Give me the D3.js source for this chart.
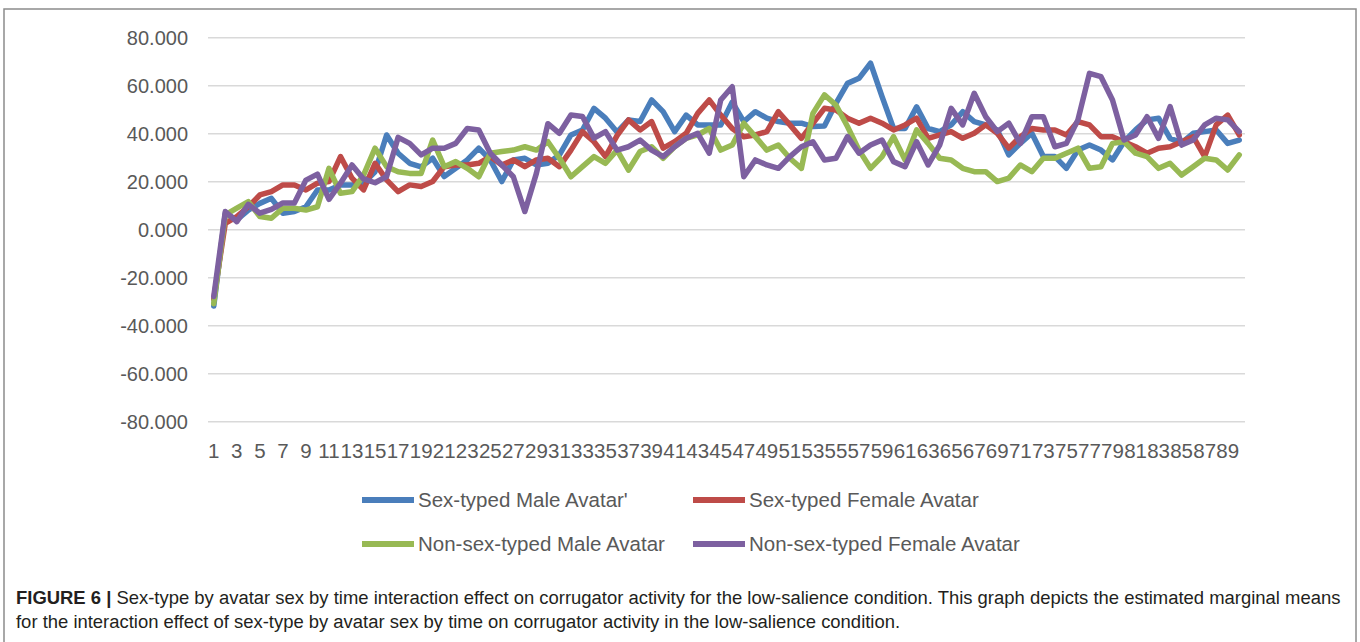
<!DOCTYPE html>
<html>
<head>
<meta charset="utf-8">
<script src="https://cdn.jsdelivr.net/npm/d3@7"></script>
<style>
  html, body { margin: 0; padding: 0; background: #fff; }
  svg { display: block; }
</style>
</head>
<body>
<svg id="chart" width="1360" height="642"></svg>
<script>
// ---- data ----
const categories = d3.range(1, 91);
const yTicks = [-80, -60, -40, -20, 0, 20, 40, 60, 80];
const seriesNames = ["Sex-typed Male Avatar'", "Sex-typed Female Avatar", "Non-sex-typed Male Avatar", "Non-sex-typed Female Avatar"];
const seriesColors = ["#4A7EBB", "#BE4B48", "#98B954", "#7D60A0"];

const sexTypedMale = [
  -32, 6.7, 3.9, 8, 10.8, 12.9, 6.7, 7.4, 9.4, 16.4,
  16.4, 18.5, 18.5, 19.2, 24, 39.3, 31.7, 27.5, 26, 29.6,
  22, 25.4, 28.9, 33.8, 28.9, 19.9, 28.9, 29.6, 26.8, 27.5,
  31, 39.3, 41.4, 50.4, 46.3, 40.5, 45.6, 44.9, 53.9, 49,
  40.7, 47.6, 43.5, 43.5, 43.5, 53, 44.9, 49, 46.3, 44.9,
  44.2, 44.2, 42.8, 43, 52.5, 60.8, 62.9, 69.2, 55.3, 42,
  42, 51, 42, 40.7, 43.5, 49, 44.9, 43.5, 41.4, 31,
  35.8, 40, 30.3, 30.3, 25.4, 33, 35.1, 33, 28.9, 36.5,
  41.4, 45.6, 46.3, 37.9, 36, 40, 40.7, 41.4, 35.8, 37.2
];
const sexTypedFemale = [
  -29, 2.5, 5.3, 9.4, 14.3, 15.7, 18.5, 18.5, 16.4, 19.2,
  19.9, 30.3, 21.3, 16.4, 27.5, 20.6, 15.7, 18.5, 17.8, 19.9,
  26.1, 26.8, 26.8, 27.5, 30.3, 26.8, 28.9, 26.1, 28.9, 29.6,
  26.1, 33, 40.7, 36.5, 30.3, 39, 45.6, 41.4, 44.9, 33.8,
  36.5, 40, 48.3, 53.9, 47.6, 42, 38.6, 39.3, 40.7, 49,
  43.5, 37.9, 44.2, 50.4, 49.7, 46.3, 44.2, 46.3, 44.2, 41.4,
  43.5, 46.3, 37.9, 39.3, 40.7, 37.9, 40, 43.5, 40, 33.8,
  38.6, 42, 41.4, 41.4, 39.3, 44.9, 43.5, 38.6, 38.6, 36.5,
  34.4, 31.7, 33.8, 34.4, 36.5, 38.6, 30.3, 43.5, 47.6, 39.3
];
const nonSexTypedMale = [
  -31, 6, 8.8, 11.5, 5.3, 4.6, 8.8, 8.8, 8, 9.4,
  25.4, 15, 15.7, 22.6, 33.8, 26.1, 24, 23.3, 23.3, 37.2,
  26.1, 28.2, 25.4, 21.9, 31.7, 32.4, 33, 34.4, 33, 36.5,
  29.6, 21.9, 26.1, 30.3, 27.5, 33, 24.7, 32.4, 34.4, 29.6,
  34.4, 37.9, 39.3, 42, 33, 35.1, 44.2, 38.6, 33, 35.1,
  29.6, 25.4, 48.3, 56, 51.8, 42.8, 33, 25.4, 30.3, 38.6,
  28.9, 41.4, 35.8, 29.6, 28.9, 25.4, 24, 24, 19.9, 21.3,
  26.8, 24, 29.6, 29.6, 31.7, 33.8, 25.4, 26.1, 35.8, 36.5,
  31.7, 30.3, 25.4, 27.5, 22.6, 26.1, 29.6, 28.9, 24.7, 31
];
const nonSexTypedFemale = [
  -28, 7.4, 3.2, 10.4, 6.7, 8.3, 11, 11, 20.5, 23,
  12.5, 19.2, 26.8, 21, 19.4, 22, 38.3, 35.8, 31, 33.8,
  33.8, 35.8, 42, 41.4, 31.7, 26.8, 21.9, 7.4, 23.3, 44,
  40, 47.6, 47, 38, 40.7, 33, 34.4, 37.2, 33, 30.3,
  34.4, 37.9, 40, 31.7, 53.9, 59.4, 21.9, 28.9, 26.8, 25.4,
  30.3, 34.4, 36.5, 28.9, 29.6, 38.6, 31.7, 35.1, 37.2, 28.2,
  26.1, 36.5, 26.8, 35.1, 50.4, 43.5, 56.7, 46.9, 40.7, 44.2,
  35.8, 46.9, 46.9, 34.4, 35.8, 45.6, 65, 63.6, 53.9, 37.2,
  39.3, 46.9, 37.9, 51.1, 35.1, 37.2, 43.5, 46.3, 45.6, 40.7
];
const seriesValues = [sexTypedMale, sexTypedFemale, nonSexTypedMale, nonSexTypedFemale];

const captionBold = "FIGURE 6 |";
const captionLine1 = " Sex-type by avatar sex by time interaction effect on corrugator activity for the low-salience condition. This graph depicts the estimated marginal means";
const captionLine2 = "for the interaction effect of sex-type by avatar sex by time on corrugator activity in the low-salience condition.";

// ---- drawing ----
const svg = d3.select("#chart");
const font = "'Liberation Sans', Arial, sans-serif";
const textColor = "#595959";

// outer frame
svg.append("rect")
  .attr("x", 4).attr("y", 9).attr("width", 1352).attr("height", 700)
  .attr("fill", "none").attr("stroke", "#8c8c8c").attr("stroke-width", 1.5);

const plot = { left: 208, right: 1245, top: 37.3, bottom: 421.3 };

const x = d3.scaleBand().domain(categories).range([plot.left, plot.right]).padding(0);
const y = d3.scaleLinear().domain([-80, 80]).range([plot.bottom, plot.top]);

// y axis with gridlines
const yAxis = svg.append("g")
  .attr("transform", `translate(${plot.left},0)`)
  .call(d3.axisLeft(y).tickValues(yTicks).tickFormat(d => d.toFixed(3))
    .tickSize(-(plot.right - plot.left)).tickPadding(20));
yAxis.select(".domain").remove();
yAxis.selectAll(".tick line").attr("stroke", "#d9d9d9").attr("stroke-width", 1.5);
yAxis.selectAll(".tick text")
  .attr("fill", textColor).attr("font-family", font).attr("font-size", 20)
  .attr("dy", "0.34em");

// x axis
const xAxis = svg.append("g")
  .attr("transform", `translate(0,${plot.bottom})`)
  .call(d3.axisBottom(x).tickValues(categories.filter(d => d % 2 === 1)).tickSize(0).tickPadding(22));
xAxis.select(".domain").remove();
xAxis.selectAll(".tick text")
  .attr("fill", textColor).attr("font-family", font).attr("font-size", 20.5);

// lines
const line = d3.line()
  .x((d, i) => x(categories[i]) + x.bandwidth() / 2)
  .y(d => y(d));

seriesValues.forEach((vals, k) => {
  svg.append("path")
    .datum(vals)
    .attr("fill", "none")
    .attr("stroke", seriesColors[k])
    .attr("stroke-width", 5.5)
    .attr("stroke-linejoin", "round")
    .attr("stroke-linecap", "round")
    .attr("d", line);
});

// legend
const legendPos = [
  { x: 362, y: 500 }, { x: 693, y: 500 },
  { x: 362, y: 544 }, { x: 693, y: 544 }
];
seriesNames.forEach((name, k) => {
  const g = svg.append("g").attr("transform", `translate(${legendPos[k].x},${legendPos[k].y})`);
  g.append("line").attr("x1", 0).attr("x2", 52).attr("y1", 0).attr("y2", 0)
    .attr("stroke", seriesColors[k]).attr("stroke-width", 6);
  g.append("text").attr("x", 56).attr("y", 0).attr("dy", "0.35em")
    .attr("fill", textColor).attr("font-family", font).attr("font-size", 20.5)
    .text(name);
});

// caption
const cap = svg.append("text").attr("x", 16).attr("y", 604)
  .attr("font-family", font).attr("font-size", 18.45).attr("fill", "#231f20");
cap.append("tspan").attr("font-weight", "bold").text(captionBold);
cap.append("tspan").text(captionLine1);
svg.append("text").attr("x", 16).attr("y", 628)
  .attr("font-family", font).attr("font-size", 18.45).attr("fill", "#231f20")
  .text(captionLine2);
</script>
</body>
</html>
